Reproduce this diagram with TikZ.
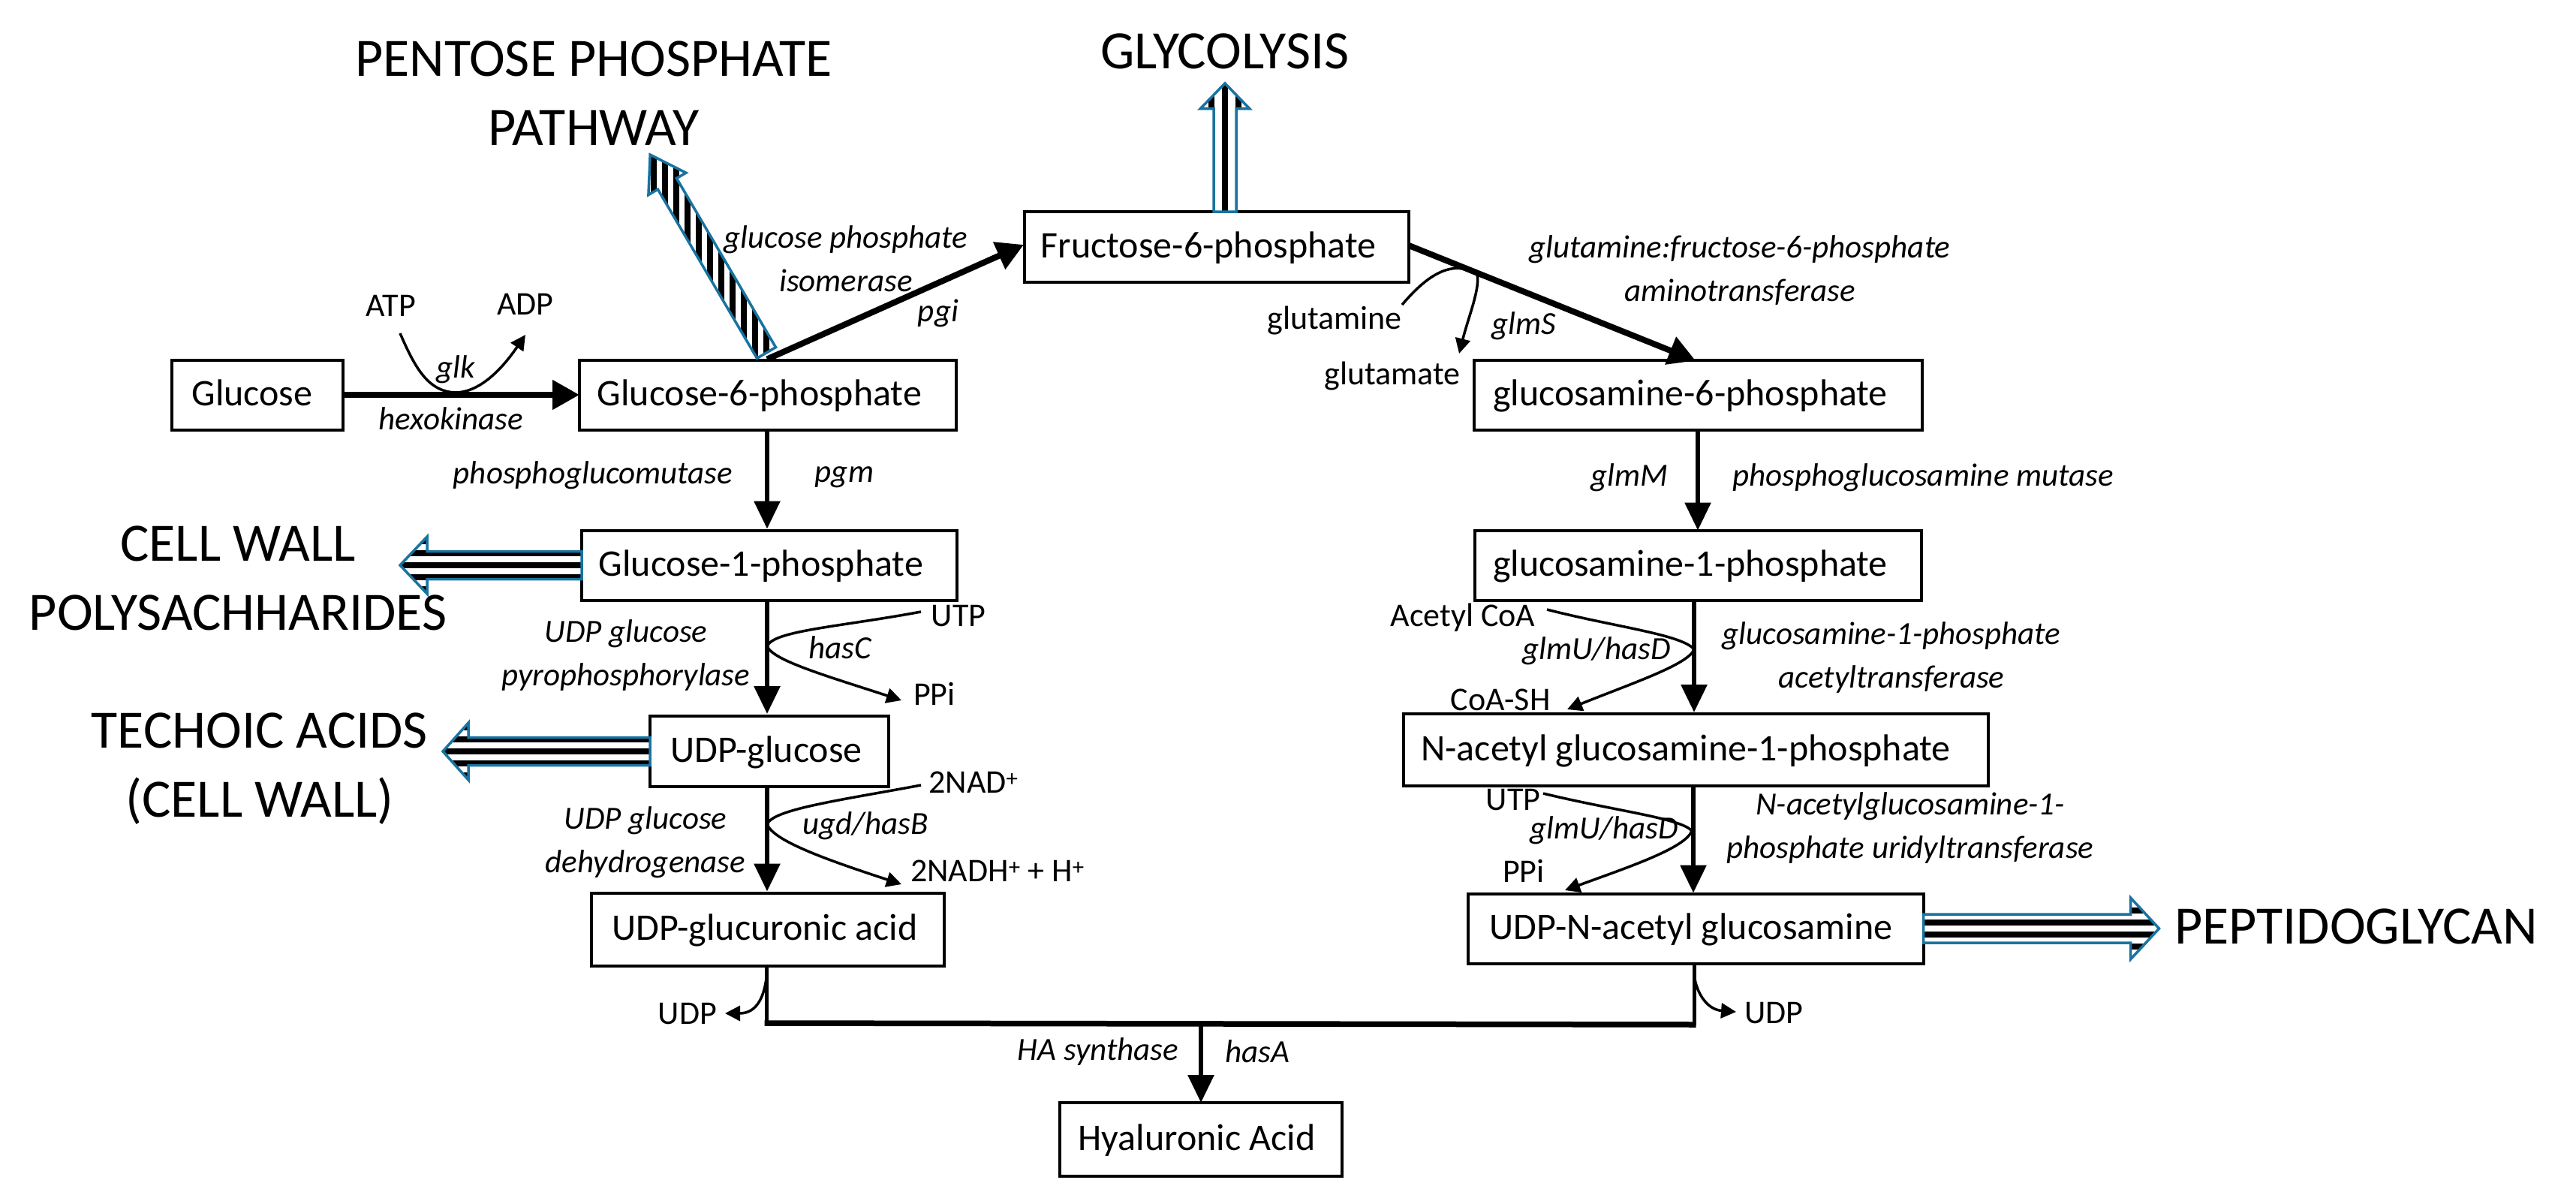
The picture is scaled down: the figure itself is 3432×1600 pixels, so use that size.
\documentclass[tikz,border=0pt]{standalone}
\usepackage{fontspec}
\setmainfont{Carlito}
\usetikzlibrary{arrows.meta,calc}
\definecolor{bluearrow}{RGB}{25,115,160}
\newcommand{\rsp}[1]{\hspace{#1}\null}
\tikzset{
  x=1pt,y=-1pt,
  box/.style={draw=black,line width=4pt,fill=white,inner sep=0pt,outer sep=0pt,font=\fontsize{50}{58}\selectfont,text height=37pt,text depth=9pt},
  lab/.style={inner sep=0pt,outer sep=0pt,align=center,font=\fontsize{43}{58}\selectfont\itshape},
  sub/.style={inner sep=0pt,outer sep=0pt,font=\fontsize{44}{50}\selectfont},
  big/.style={inner sep=0pt,outer sep=0pt,align=center,font=\fontsize{72}{92}\selectfont},
  thickarrow/.style={line width=8pt,-{Triangle[length=36pt,width=38pt]}},
  midarrow/.style={line width=6pt,-{Triangle[length=37pt,width=34pt]}},
  thinarrow/.style={line width=3.5pt,-{Triangle[length=20pt,width=20pt]}},
  fatline/.style={draw=bluearrow,line width=3.5pt,miter limit=10,line join=miter},
}
% base, angle, length, shaft half width, head half width, head length, stripe rotation, stripe offset, period
\newcommand{\fatarrow}[9]{%
  \begin{scope}[shift={(#1)},rotate=#2]
    \def\shape{(0,-#4) -- ({#3-#6},-#4) -- ({#3-#6},-#5) -- (#3,0) -- ({#3-#6},#5) -- ({#3-#6},#4) -- (0,#4) -- cycle}
    \fill[white] \shape;
    \begin{scope}
      \clip \shape;
      \begin{scope}[rotate=#7]
        \foreach \k in {-12,...,12}
          \fill[black] (-500,{(\k+#8)*#9-3.6}) rectangle (500,{(\k+#8)*#9+3.6});
      \end{scope}
    \end{scope}
    \draw[fatline] \shape;
  \end{scope}}
\begin{document}
\begin{tikzpicture}
\useasboundingbox (0,0) rectangle (3432,1600);
% boxes
\node[box,minimum width=228pt,minimum height=93pt] (glucose) at (343,526) {Glucose\rsp{14pt}};
\node[box,minimum width=502pt,minimum height=93pt] (g6p) at (1023,526) {Glucose-6-phosphate\rsp{22pt}};
\node[box,minimum width=512pt,minimum height=94pt] (f6p) at (1621,329) {Fructose-6-phosphate\rsp{22pt}};
\node[box,minimum width=597pt,minimum height=93pt] (gm6p) at (2262,526) {glucosamine-6-phosphate\rsp{20pt}};
\node[box,minimum width=500pt,minimum height=93pt] (g1p) at (1025,753) {Glucose-1-phosphate\rsp{22pt}};
\node[box,minimum width=595pt,minimum height=93pt] (gm1p) at (2262,753) {glucosamine-1-phosphate\rsp{20pt}};
\node[box,minimum width=318pt,minimum height=94pt] (udpglc) at (1025,1001) {UDP-glucose\rsp{8pt}};
\node[box,minimum width=779pt,minimum height=96pt] (nag1p) at (2259,999) {N-acetyl glucosamine-1-phosphate\rsp{26pt}};
\node[box,minimum width=470pt,minimum height=97pt] (udpgca) at (1023,1238) {UDP-glucuronic acid\rsp{8pt}};
\node[box,minimum width=607pt,minimum height=93pt] (udpnag) at (2259,1237) {UDP-N-acetyl glucosamine\rsp{12pt}};
\node[box,minimum width=376pt,minimum height=98pt] (ha) at (1600,1518) {Hyaluronic Acid\rsp{11pt}};
% big labels
\node[big] (ppp) at (791,124) {PENTOSE PHOSPHATE\\PATHWAY};
\node[big] (gly) at (1632,68) {GLYCOLYSIS};
\node[big] (cw) at (317,770) {CELL WALL\\POLYSACHHARIDES};
\node[big] (ta) at (346,1024) {TECHOIC ACIDS\\(CELL WALL)};
\node[big] (pep) at (3139,1234) {PEPTIDOGLYCAN};
% fat arrows
\coordinate (pppbase) at (1021,470);
\fatarrow{pppbase}{120.4}{306}{14.5}{29}{45}{-30.4}{0}{15}
\fatarrow{$(f6p.north)+(11,0)$}{90}{171}{15}{33}{34}{0}{0}{18}
\fatarrow{g1p.west}{180}{242}{18.5}{38}{36}{0}{0}{16}
\fatarrow{udpglc.west}{180}{276}{18.5}{38}{34}{0}{0}{16}
\fatarrow{udpnag.east}{0}{314}{19}{41}{38}{0}{0.5}{16}
% main arrows
\draw[thickarrow] (glucose.east) -- (g6p.west);
\draw[thickarrow] ($(g6p.north)+(-1,-1)$) -- ($(f6p.west)+(-1,-3)$);
\draw[thickarrow] ($(f6p.east)+(0,-2)$) -- ($(gm6p.north)+(-3,1)$);
\draw[midarrow] ($(g6p.south)+(-1,0)$) -- ($(g6p.south |- g1p.north)+(-1,-2)$);
\draw[midarrow] ($(g1p.south)+(-3,0)$) -- ($(g1p.south |- udpglc.north)+(-3,-3)$);
\draw[midarrow] ($(udpglc.south)+(-3,0)$) -- ($(udpglc.south |- udpgca.north)+(-3,-2)$);
\draw[midarrow] (gm6p.south) -- (gm6p.south |- gm1p.north);
\draw[midarrow] ($(gm1p.south)+(-5,0)$) -- ($(gm1p.south |- nag1p.north)+(-5,-2)$);
\draw[midarrow] ($(nag1p.south)+(-3,0)$) -- ($(nag1p.south |- udpnag.north)+(-3,-1)$);
% condensation
\coordinate (jl) at ($(udpgca.south |- 0,1363)+(-2,0)$);
\coordinate (jr) at ($(udpnag.south |- 0,1365)+(-2,0)$);
\draw[line width=5pt] ($(udpgca.south)+(-2,0)$) -- (jl);
\draw[line width=5pt] ($(udpnag.south)+(-2,0)$) -- (jr);
\draw[line width=7.5pt] ($(jl)+(-2.5,0)$) -- ($(jr)+(2.5,0)$);
\draw[midarrow] (ha.north |- jl) -- (ha.north);
% side curves
\coordinate (atpe) at (533,444);
\coordinate (adpe) at (700,446);
\draw[thinarrow] (atpe) .. controls (553,490) and (570,521) .. (606,523) .. controls (640,523) and (670,490) .. (adpe);
\coordinate (glne) at (1868,406);
\coordinate (glue) at (1944,471);
\draw[thinarrow] (glne) .. controls (1915,350) and (1945,352) .. (1968,365) .. controls (1972,385) and (1957,420) .. (glue);
\coordinate (utpe) at (1227,815);
\coordinate (ppie) at (1201,933);
\draw[thinarrow] (utpe) .. controls (1120,835) and (1030,840) .. (1022,861) .. controls (1030,880) and (1100,900) .. (ppie);
\coordinate (nade) at (1227,1046);
\coordinate (nadhe) at (1201,1178);
\draw[thinarrow] (nade) .. controls (1120,1066) and (1030,1078) .. (1022,1098) .. controls (1030,1120) and (1100,1145) .. (nadhe);
\coordinate (acoe) at (2061,812);
\coordinate (coae) at (2088,945);
\draw[thinarrow] (acoe) .. controls (2150,835) and (2240,845) .. (2257,865) .. controls (2250,885) and (2175,910) .. (coae);
\coordinate (utpf) at (2056,1057);
\coordinate (ppif) at (2085,1186);
\draw[thinarrow] (utpf) .. controls (2150,1080) and (2240,1090) .. (2254,1107) .. controls (2245,1130) and (2170,1155) .. (ppif);
\coordinate (udple) at (966,1350);
\coordinate (udpre) at (2313,1348);
\draw[thinarrow] ($(udpgca.south)+(-2,17)$) .. controls (1018,1325) and (1010,1350) .. (udple);
\draw[thinarrow] ($(udpnag.south)+(-1,21)$) .. controls (2262,1325) and (2275,1345) .. (udpre);
% small labels
\node[sub] (atp) at (521,407) {ATP};
\node[sub] (adp) at (700,405) {ADP};
\node[sub] (gln) at (1778,427) {glutamine};
\node[sub] (glu) at (1855,501) {glutamate};
\node[sub] (utp) at (1277,821) {UTP};
\node[sub] (ppi) at (1245,924) {PPi};
\node[sub] (nad) at (1297,1042) {2NAD\textsuperscript{+}};
\node[sub] (nadh) at (1329,1160) {2NADH\textsuperscript{+} + H\textsuperscript{+}};
\node[sub] (aco) at (1949,823) {Acetyl CoA};
\node[sub] (coa) at (1999,932) {CoA-SH};
\node[sub] (utp2) at (2016,1066) {UTP};
\node[sub] (ppi2) at (2030,1160) {PPi};
\node[sub] (udpl) at (916,1351) {UDP};
\node[sub] (udpr) at (2363,1350) {UDP};
\node[lab] (glk) at (607,492) {glk};
\node[lab] (hex) at (601,558) {hexokinase};
\node[lab] (gpi) at (1127,345) {glucose phosphate\\isomerase};
\node[lab] (pgi) at (1250,417) {pgi};
\node[lab] (gfa) at (2318,360) {glutamine:fructose-6-phosphate\\aminotransferase};
\node[lab] (glms) at (2030,434) {glmS};
\node[lab] (pgmn) at (790,633) {phosphoglucomutase};
\node[lab] (pgm) at (1125,636) {pgm};
\node[lab] (glmm) at (2171,636) {glmM};
\node[lab] (pgmu) at (2562,636) {phosphoglucosamine mutase};
\node[lab] (ugp) at (834,873) {UDP glucose\\pyrophosphorylase};
\node[lab] (hasc) at (1119,863) {hasC};
\node[lab] (ugdh) at (860,1122) {UDP glucose\\dehydrogenase};
\node[lab] (ugd) at (1153,1100) {ugd/hasB};
\node[lab] (glmu) at (2127,867) {glmU/hasD};
\node[lab] (gat) at (2520,876) {glucosamine-1-phosphate\\acetyltransferase};
\node[lab] (glmu2) at (2137,1106) {glmU/hasD};
\node[lab] (nut) at (2545,1103) {N-acetylglucosamine-1-\\phosphate uridyltransferase};
\node[lab] (has) at (1463,1401) {HA synthase};
\node[lab] (hasa) at (1675,1401) {hasA};
\end{tikzpicture}
\end{document}
